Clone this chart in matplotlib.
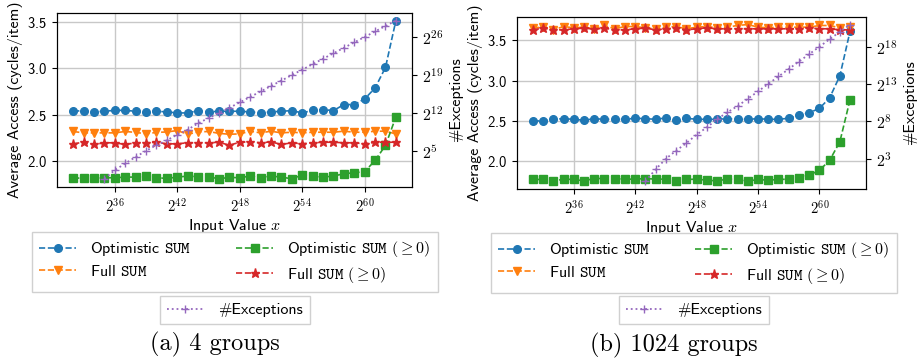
import matplotlib
matplotlib.use("Agg")
import matplotlib.pyplot as plt
from matplotlib.ticker import NullLocator

plt.rcParams["font.family"] = "cmss10"
plt.rcParams["mathtext.fontset"] = "cm"
plt.rcParams["axes.unicode_minus"] = False
plt.rcParams["axes.formatter.use_mathtext"] = True

# x values are powers of two: 2^32 .. 2^63
exponents = list(range(32, 64))

# (a) 4 groups
opt_sum_a = [2.538, 2.545, 2.531, 2.538, 2.548, 2.548, 2.538, 2.531, 2.538, 2.531, 2.520, 2.520,
             2.545, 2.531, 2.538, 2.538, 2.538, 2.531, 2.520, 2.531, 2.538, 2.545, 2.520, 2.548,
             2.556, 2.545, 2.610, 2.610, 2.671, 2.789, 3.011, 3.516]
full_sum_a = [2.320, 2.305, 2.305, 2.305, 2.305, 2.320, 2.310, 2.295, 2.310, 2.315, 2.330, 2.290,
              2.315, 2.320, 2.300, 2.290, 2.294, 2.323, 2.305, 2.323, 2.305, 2.312, 2.305, 2.312,
              2.312, 2.312, 2.323, 2.312, 2.312, 2.323, 2.323, 2.294]
opt_sum_pos_a = [1.814, 1.821, 1.814, 1.821, 1.821, 1.828, 1.828, 1.839, 1.821, 1.814, 1.828, 1.839,
                 1.832, 1.832, 1.810, 1.825, 1.821, 1.839, 1.821, 1.839, 1.828, 1.810, 1.850, 1.839,
                 1.828, 1.839, 1.864, 1.875, 1.886, 2.008, 2.169, 2.477]
full_sum_pos_a = [2.187, 2.204, 2.180, 2.198, 2.198, 2.180, 2.198, 2.198, 2.204, 2.187, 2.187, 2.198,
                  2.198, 2.198, 2.204, 2.172, 2.204, 2.208, 2.198, 2.208, 2.180, 2.198, 2.187, 2.198,
                  2.204, 2.204, 2.198, 2.198, 2.187, 2.204, 2.204, 2.204]
exc_exponents_a = list(range(35, 64))
exceptions_a = [1, 3, 7, 16, 35, 72, 134, 272, 512, 1150, 2240, 4200, 8200, 16400, 32800, 65500,
                131000, 262000, 524000, 1049000, 2097000, 4194000, 8389000, 16780000, 33550000,
                67110000, 134200000, 268400000, 536900000]
exc_ticks_a = [5, 12, 19, 26]

# (b) 1024 groups
opt_sum_b = [2.499, 2.499, 2.519, 2.527, 2.519, 2.507, 2.527, 2.519, 2.519, 2.519, 2.532, 2.527,
             2.519, 2.536, 2.507, 2.532, 2.519, 2.519, 2.519, 2.527, 2.519, 2.519, 2.527, 2.519,
             2.519, 2.532, 2.568, 2.601, 2.654, 2.785, 3.059, 3.614]
full_sum_b = [3.655, 3.663, 3.630, 3.671, 3.655, 3.663, 3.643, 3.684, 3.643, 3.671, 3.671, 3.655,
              3.643, 3.663, 3.671, 3.643, 3.663, 3.671, 3.655, 3.663, 3.684, 3.696, 3.663, 3.655,
              3.663, 3.663, 3.663, 3.663, 3.684, 3.684, 3.655, 3.671]
opt_sum_pos_b = [1.772, 1.772, 1.751, 1.776, 1.772, 1.755, 1.784, 1.784, 1.784, 1.776, 1.776, 1.784,
                 1.776, 1.776, 1.755, 1.772, 1.776, 1.763, 1.755, 1.776, 1.776, 1.751, 1.772, 1.763,
                 1.772, 1.776, 1.796, 1.825, 1.886, 2.009, 2.241, 2.765]
full_sum_pos_b = [3.630, 3.651, 3.630, 3.630, 3.643, 3.651, 3.639, 3.651, 3.630, 3.630, 3.643, 3.651,
                  3.630, 3.643, 3.651, 3.630, 3.643, 3.655, 3.643, 3.643, 3.643, 3.643, 3.643, 3.643,
                  3.643, 3.643, 3.643, 3.655, 3.643, 3.643, 3.630, 3.630]
exc_exponents_b = list(range(43, 64))
exceptions_b = [1, 3, 8, 17, 34, 75, 147, 315, 590, 1060, 2080, 4150, 8250, 16500, 33000, 66000,
                131000, 262000, 524000, 1048000, 2050000]
exc_ticks_b = [3, 8, 13, 18]

x_tick_exponents = [36, 42, 48, 54, 60]

fig = plt.figure(figsize=(9.23, 3.62), dpi=100)

LINE_KW = dict(linestyle="--", linewidth=1.2, markersize=5.5)


def draw_panel(rect, opt, full, opt_pos, full_pos, exc_exp, exc, exc_ticks,
               caption, leg_x, leg_y1, leg_y2, cap_x, cap_y):
    xs = [2.0 ** e for e in exponents]
    ax = fig.add_axes(rect)
    h1, = ax.plot(xs, opt, marker="o", color="tab:blue", label=r"Optimistic $\mathtt{SUM}$", **LINE_KW)
    h2, = ax.plot(xs, full, marker="v", color="tab:orange", label=r"Full $\mathtt{SUM}$", **LINE_KW)
    h3, = ax.plot(xs, opt_pos, marker="s", color="tab:green",
                  label=r"Optimistic $\mathtt{SUM}$ $(\geq 0)$", **LINE_KW)
    h4, = ax.plot(xs, full_pos, marker="*", color="tab:red",
                  label=r"Full $\mathtt{SUM}$ $(\geq 0)$", markersize=6.5, linestyle="--", linewidth=1.2)
    ax.set_xscale("log", base=2)
    ax.set_xticks([2.0 ** e for e in x_tick_exponents])
    ax.set_xticklabels([r"$2^{%d}$" % e for e in x_tick_exponents])
    ax.xaxis.set_minor_locator(NullLocator())
    ax.set_yticks([2.0, 2.5, 3.0, 3.5])
    ax.grid(True, color="#c8c8c8", linewidth=1.0)
    ax.tick_params(labelsize=10.5)
    ax.set_xlabel("Input Value $x$", fontsize=11.5, labelpad=2)
    ax.set_ylabel("Average Access (cycles/item)", fontsize=11.5, labelpad=3)

    ax2 = ax.twinx()
    h5, = ax2.plot([2.0 ** e for e in exc_exp], exc, linestyle=":", marker="+", color="tab:purple",
                   linewidth=1.3, markersize=6, label="#Exceptions")
    ax2.set_yscale("log", base=2)
    ax2.set_yticks([2.0 ** e for e in exc_ticks])
    ax2.set_yticklabels([r"$2^{%d}$" % e for e in exc_ticks])
    ax2.yaxis.set_minor_locator(NullLocator())
    ax2.tick_params(labelsize=11.5)
    ax2.set_ylabel("#Exceptions", fontsize=11.5)

    leg_kw = dict(loc="center", fontsize=11.5, fancybox=False, edgecolor="#d0d0d0",
                  framealpha=1, handlelength=2.3, handletextpad=0.9, borderpad=0.45)
    fig.legend(handles=[h1, h2, h3, h4], ncol=2, columnspacing=2.8, labelspacing=0.35,
               bbox_to_anchor=(leg_x, leg_y1), **leg_kw)
    fig.legend(handles=[h5], bbox_to_anchor=(leg_x, leg_y2), **leg_kw)
    fig.text(cap_x, cap_y, caption, ha="center", va="center", family="cmr10", fontsize=17.5)


draw_panel([0.0618, 0.4843, 0.3846, 0.4807], opt_sum_a, full_sum_a, opt_sum_pos_a, full_sum_pos_a,
           exc_exponents_a, exceptions_a, exc_ticks_a, "(a) 4 groups",
           0.2546, 0.2762, 0.1436, 0.2330, 0.048)
draw_panel([0.5601, 0.4779, 0.3781, 0.4760], opt_sum_b, full_sum_b, opt_sum_pos_b, full_sum_pos_b,
           exc_exponents_b, exceptions_b, exc_ticks_b, "(b) 1024 groups",
           0.7519, 0.2735, 0.1436, 0.7295, 0.045)

fig.savefig("out.png", dpi=100)
